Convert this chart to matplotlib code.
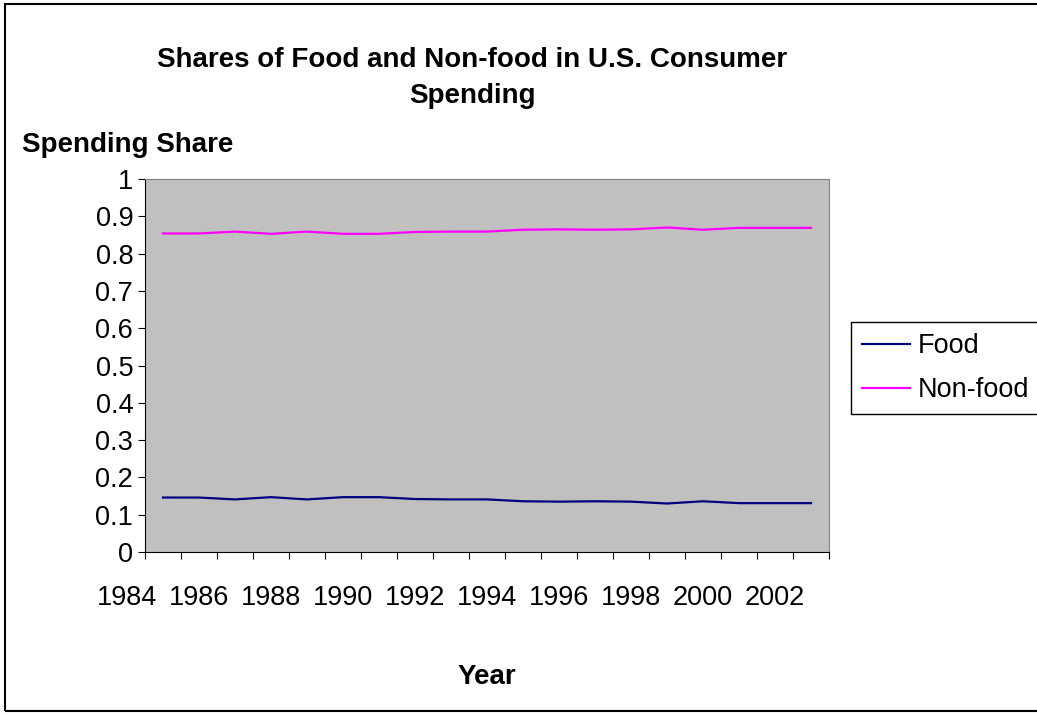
import matplotlib
matplotlib.use("Agg")
import matplotlib.pyplot as plt
import matplotlib.transforms as mtransforms
from matplotlib.patches import Rectangle
import numpy as np

plt.rcParams['font.family'] = ['Liberation Sans', 'DejaVu Sans']

# data
years = list(range(1985, 2004))
food = [0.146, 0.146, 0.141, 0.147, 0.141, 0.147, 0.147, 0.142, 0.141, 0.141,
        0.136, 0.135, 0.136, 0.135, 0.130, 0.136, 0.131, 0.131, 0.131]
nonfood = [0.854, 0.854, 0.859, 0.853, 0.859, 0.853, 0.853, 0.858, 0.859, 0.859,
           0.864, 0.865, 0.864, 0.865, 0.870, 0.864, 0.869, 0.869, 0.869]
year_labels = list(range(1984, 2003, 2))
y_ticks = [0, 0.1, 0.2, 0.3, 0.4, 0.5, 0.6, 0.7, 0.8, 0.9, 1]

W, H = 1037, 715
fig = plt.figure(figsize=(W / 100, H / 100), dpi=100)

# outer chart border
fig.patches.append(Rectangle((5 / W, 4 / H), 1.1, (711 - 4) / H, transform=fig.transFigure,
                             fill=False, edgecolor='black', linewidth=1.5))

ax = fig.add_axes([145 / W, 1 - 552 / H, (829 - 145) / W, (552 - 179) / H])
ax.set_facecolor('#C0C0C0')

ax.plot(years, food, color='#000080', lw=1.6, label='Food')
ax.plot(years, nonfood, color='#FF00FF', lw=1.6, label='Non-food')

ax.set_xlim(years[0] - 0.5, years[-1] + 0.5)
ax.set_ylim(0, 1)

for s in ['top', 'right']:
    ax.spines[s].set_color('#808080')
for s in ['left', 'bottom']:
    ax.spines[s].set_color('black')

ax.set_yticks(y_ticks)
ax.set_yticklabels([f"{v:g}" for v in y_ticks], fontsize=19.5)
ax.tick_params(axis='y', direction='out', length=5, pad=3.5)

ax.set_xticks(np.arange(years[0] - 0.5, years[-1] + 1))
ax.set_xticklabels([])
ax.tick_params(axis='x', direction='out', length=5)

trans = mtransforms.blended_transform_factory(ax.transData, ax.transAxes)
for yr in year_labels:
    ax.text(yr, -0.123, str(yr), transform=trans, ha='center', va='center',
            fontsize=19.5, clip_on=False)

fig.text(472 / W, 1 - 78 / H, "Shares of Food and Non-food in U.S. Consumer\nSpending",
         ha='center', va='center', fontsize=20, fontweight='bold', linespacing=1.5)
fig.text(22 / W, 1 - 152 / H, "Spending Share", ha='left', va='baseline',
         fontsize=20, fontweight='bold')
fig.text(487 / W, 1 - 677 / H, "Year", ha='center', va='center',
         fontsize=20, fontweight='bold')

leg = ax.legend(loc='upper left', bbox_to_anchor=(851 / W, 1 - 322 / H),
                bbox_transform=fig.transFigure, borderaxespad=0, fontsize=19.5,
                frameon=True, fancybox=False, framealpha=1, edgecolor='black',
                handlelength=1.75, handletextpad=0.3, borderpad=0.42, labelspacing=0.65)
leg.get_frame().set_linewidth(1.0)

fig.savefig("out.png", dpi=100)
